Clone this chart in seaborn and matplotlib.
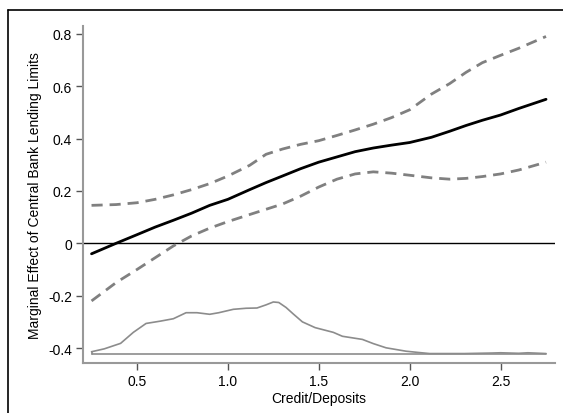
import matplotlib
matplotlib.use("Agg")
import matplotlib.pyplot as plt
from matplotlib.lines import Line2D
import seaborn as sns
import pandas as pd

# Marginal effect and 95% bounds over Credit/Deposits
x_eff = [0.25, 0.385, 0.5, 0.6, 0.7, 0.8, 0.9, 1.0, 1.12, 1.21, 1.3, 1.4, 1.5,
         1.6, 1.7, 1.8, 1.9, 2.0, 2.12, 2.22, 2.31, 2.4, 2.5, 2.6, 2.75]
effect = [-0.040, 0.0, 0.033, 0.062, 0.088, 0.115, 0.145, 0.168, 0.205, 0.232,
          0.257, 0.285, 0.31, 0.33, 0.35, 0.364, 0.375, 0.385, 0.405, 0.428,
          0.45, 0.47, 0.49, 0.515, 0.55]
upper = [0.145, 0.148, 0.155, 0.168, 0.185, 0.205, 0.228, 0.257, 0.298, 0.34,
         0.36, 0.378, 0.392, 0.412, 0.433, 0.455, 0.48, 0.51, 0.57, 0.61,
         0.653, 0.69, 0.718, 0.745, 0.79]
lower = [-0.22, -0.15, -0.10, -0.055, -0.01, 0.028, 0.058, 0.083, 0.11, 0.13,
         0.15, 0.18, 0.215, 0.245, 0.265, 0.273, 0.268, 0.26, 0.25, 0.245,
         0.248, 0.255, 0.265, 0.28, 0.31]

# Kernel density of Credit/Deposits (rescaled)
x_dens = [0.25, 0.32, 0.41, 0.48, 0.55, 0.63, 0.70, 0.77, 0.83, 0.90, 0.95,
          1.03, 1.10, 1.16, 1.21, 1.25, 1.28, 1.32, 1.36, 1.41, 1.48, 1.58,
          1.63, 1.74, 1.80, 1.87, 1.98, 2.05, 2.11, 2.3, 2.45, 2.5, 2.6, 2.65, 2.75]
dens = [-0.414, -0.403, -0.382, -0.34, -0.306, -0.297, -0.288, -0.265, -0.265,
        -0.271, -0.265, -0.252, -0.248, -0.247, -0.235, -0.224, -0.226, -0.245,
        -0.27, -0.30, -0.322, -0.34, -0.355, -0.367, -0.383, -0.399, -0.412,
        -0.417, -0.421, -0.421, -0.419, -0.418, -0.420, -0.418, -0.421]
dens_base = -0.4245

df = pd.DataFrame({"x": x_eff, "effect": effect, "upper": upper, "lower": lower})
dd = pd.DataFrame({"x": x_dens, "dens": dens})

sns.set_style("white")
plt.rcParams['font.family'] = ['Liberation Sans', 'DejaVu Sans']

fig = plt.figure(figsize=(5.63, 4.14), dpi=100)
ax = fig.add_axes([0.1474, 0.1208, 0.8386, 0.814])

ax.axhline(0, color="black", lw=1.0, zorder=1)
ax.plot([min(x_dens), max(x_dens)], [dens_base, dens_base], color="#8c8c8c", lw=1.2)
ax.plot([min(x_dens), min(x_dens)], [dens_base, dens[0]], color="#8c8c8c", lw=1.2)
sns.lineplot(data=dd, x="x", y="dens", ax=ax, color="#8c8c8c", lw=1.2)
sns.lineplot(data=df, x="x", y="upper", ax=ax, color="#808080", lw=2,
             linestyle=(0, (4, 2.5)))
sns.lineplot(data=df, x="x", y="lower", ax=ax, color="#808080", lw=2,
             linestyle=(0, (4, 2.5)))
sns.lineplot(data=df, x="x", y="effect", ax=ax, color="black", lw=2)

ax.set_xlim(0.203, 2.80)
ax.set_ylim(-0.457, 0.83)
ax.set_xticks([0.5, 1.0, 1.5, 2.0, 2.5])
ax.set_xticklabels(["0.5", "1.0", "1.5", "2.0", "2.5"])
ax.set_yticks([-0.4, -0.2, 0, 0.2, 0.4, 0.6, 0.8])
ax.set_yticklabels(["-0.4", "-0.2", "0", "0.2", "0.4", "0.6", "0.8"])
ax.tick_params(axis="both", direction="out", length=5, width=1, color="#555555",
               labelcolor="black", labelsize=10, pad=3, left=True, bottom=True)
ax.set_xlabel("Credit/Deposits", fontsize=10, labelpad=2, color="black")
ax.set_ylabel("Marginal Effect of Central Bank Lending Limits", fontsize=10,
              labelpad=4, color="black")

for side in ["top", "right"]:
    ax.spines[side].set_visible(False)
for side in ["left", "bottom"]:
    ax.spines[side].set_color("#999999")
    ax.spines[side].set_linewidth(1.5)

# outer frame (left and top edges)
fig.add_artist(Line2D([0.0142, 0.0142], [0.0, 0.9734], transform=fig.transFigure,
                      color="black", lw=1.2))
fig.add_artist(Line2D([0.0142, 1.0], [0.9734, 0.9734], transform=fig.transFigure,
                      color="black", lw=1.2))

fig.savefig("out.png", dpi=100)
